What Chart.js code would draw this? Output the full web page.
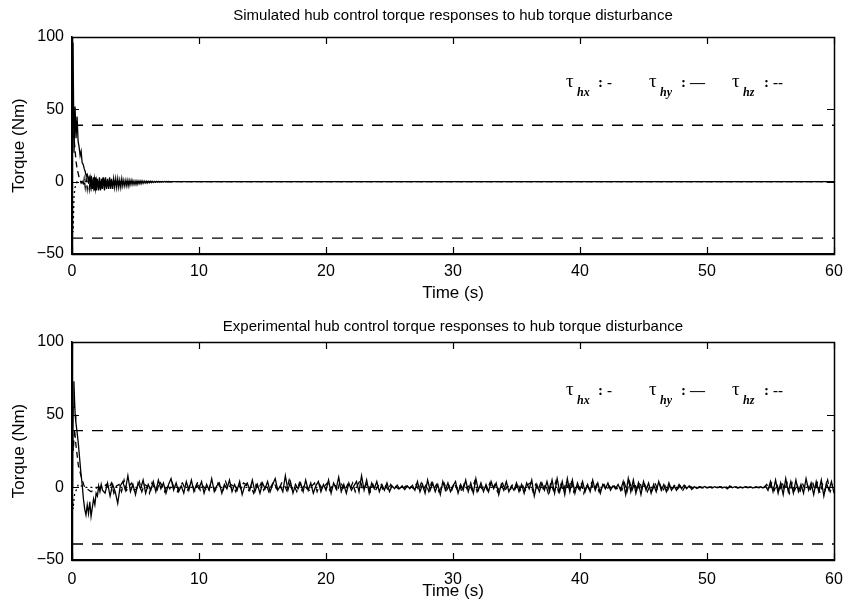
<!DOCTYPE html>
<html>
<head>
<meta charset="utf-8">
<script src="https://cdn.jsdelivr.net/npm/chart.js@4.4.1/dist/chart.umd.min.js"></script>
<style>
  html, body { margin: 0; padding: 0; background: #fff; }
  #wrap { position: relative; width: 847px; height: 605px; }
  #c1 { position: absolute; left: 0; top: 0; }
  #c2 { position: absolute; left: 0; top: 302px; }
</style>
</head>
<body>
<div id="wrap">
  <canvas id="c1" width="847" height="305"></canvas>
  <canvas id="c2" width="847" height="303"></canvas>
</div>
<script>
// ---------------- DATA ----------------
const xTickValues = [0, 10, 20, 30, 40, 50, 60];
const yTickValues = [-50, 0, 50, 100];
const limitValues = [39, -39];
const titles = [
  'Simulated hub control torque responses to hub torque disturbance',
  'Experimental hub control torque responses to hub torque disturbance'
];
const legendSubs = ['hx', 'hy', 'hz'];
const legendMarks = ['-', '\u2014', '--'];

// Simulated: sampled every 0.08 s from t = 0, then steady at 0 until 60 s
const simDt = 0.08;
const simHx = [0, 96, 20, 52, 30, 45, 28, 24, 18, 21, 13, 12, 9, 7, 4, 5, 1, 3,
  -3, 4, -5, 3, -6, 3, -6, 2, -6, 3, -6, 2, -5, 3, -6, 3, -5, 2, -5, 3, -5, 2,
  -5, 2, -4, 2, -4, 2, -4, 1, -4, 2, -3, 1, -3, 1, -3, 1, -3, 1, -2, 1,
  -2, 0.5, -2, 0.5, -2, 0.5, -1.5, 0.5, -1.5, 0.5, -1.2, 0.4, -1, 0.4, -1, 0.3,
  -0.8, 0.3, -0.7, 0.3, -0.6, 0.2, -0.5, 0.2, -0.4, 0.2, -0.4, 0.1, -0.3, 0.1,
  -0.3, 0.1, -0.2, 0.1, -0.2, 0.1, -0.1, 0, -0.1, 0, 0];
const simHy = [0, 45, 30, 22, 14, 9, 6, 3, 1, -1, 0, -3, 2, -4, 2, -5, 1, -5, 2,
  -4, 1, -4, 2, -5, 1, -4, 1, -3, 1, -3, 1, -3, 0.5, -2, 0.5, -2, 0.5, -2, 0.3,
  -1.5, 0.3, -1, 0.2, -1, 0.2, -0.8, 0.1, -0.5, 0, -0.3, 0];
const simHz = [0, -35, -10, -4, -2, 0];
const simEndTime = 60;
const simEndValue = 0;

// Experimental transient (explicit times)
const expTransT = [0, 0.05, 0.1, 0.15, 0.2, 0.25, 0.3, 0.4, 0.5, 0.6, 0.7, 0.8, 0.9, 1.0,
  1.1, 1.2, 1.3, 1.4, 1.5, 1.6, 1.7, 1.8, 1.9, 2.0, 2.1, 2.2, 2.3, 2.4];
const expTransHx = [0, 30, 55, 73, 60, 50, 45, 38, 30, 20, 10, 2, -8, -15,
  -19, -12, -18, -10, -20, -14, -8, -12, -4, -6, 1, -3, 2, -2];
// Experimental noise, sampled every 0.2 s
const expNoiseDt = 0.2;
const expNoiseHxT0 = 2.6;
const expNoiseHx = [
  -4, 3, -6, 2, -3, -11, 1, 4, -2, 8,
  -3, 2, -5, 3, -1, 5, -4, 2, -2, 4,
  -3, 5, -1, 3, -4, 2, 6, -2, 3, -3,
  1, -4, 4, -2, 5, -3, 2, -1, 4, -4,
  2, -2, 6, -3, 1, 3, -4, 2, -1, 5,
  -3, 2, -2, 4, -5, 1, 3, -2, 5, -3,
  2, -4, 3, -1, 4, -3, 2, 6, -2, 1,
  -3, 8, -2, 4, -4, 2, -1, 3, -3, 5,
  -2, 3, -4, 1, 4, -3, 2, -2, 5, -4,
  3, -1, 7, -3, 2, -4, 3, -2, 1, 4,
  -3, 8, -2, 5, -4, 3, -1, 4, -3, 2,
  -2, 3, -3, 1, -1, 1.5, -1, 1, -1.5, 1,
  -1, 1.5, -2, 4, -3, 2, -4, 5, -2, 3,
  -3, 2, -5, 4, -2, 3, -3, 1, 4, -4,
  2, -2, 5, -3, 3, -4, 6, -2, 3, -3,
  2, -3, 4, -1, 3, -5, 2, -2, 4, -3,
  1, -2, 3, -3, 2, -4, 3, -1, 5, -6,
  2, -3, 3, -2, 4, -3, 5, -4, 6, -3,
  4, -5, 6, -3, 5, -4, 3, -2, 4, -3,
  2, -3, 5, -2, 3, -4, 2, -1, 3, -2,
  1, -1, 2, -2, 4, -5, 6, -3, 5, -4,
  3, -5, 4, -2, 3, -4, 2, -3, 4, -2,
  2, -3, 3, -2, 1, -2, 2, -1, 1.5, -1,
  1, -1.5, 0.5, -0.8, 0.5, -0.5, 0.6, -0.4, 0.3, -0.5,
  0.4, -0.3, 0.5, -0.4, 0.3, -1, 1, -0.3, 0.4, -0.5,
  0.3, -0.4, 0.5, -0.3, 0.4, -0.5, 0.3, -0.2, 0.5, -0.4,
  1, -2, 4, -3, 5, -4, 3, -5, 6, -3,
  4, -4, 5, -3, 2, -4, 6, -2, 3, -5,
  4, -3, 5, -6, 3, -2, 4, -4];
const expNoiseHyT0 = 2.7;
const expNoiseHy = [
  2, -1, 3, -4, 1, 2, -3, 5, -2, 1,
  3, -2, -1, 4, -3, 2, 1, -4, 3, -1,
  -2, 4, 1, -3, 2, -1, 3, -2, -3, 2,
  3, -1, -2, 2, 1, -3, 4, -2, 1, -1,
  -3, 2, 1, -2, 3, -1, -2, 4, -1, 2,
  1, -3, 2, -1, 3, 2, -2, 1, -4, 2,
  -1, 3, -2, 2, -3, 1, 4, -1, -2, 3,
  2, -2, 5, -1, 1, -3, 3, -2, 2, -1,
  -2, 1, 3, -3, 2, -1, 1, 3, -2, 1,
  2, -3, 4, 1, -2, 2, -1, 3, -3, 2,
  5, -2, 1, 3, -3, 2, -2, 1, 3, -2,
  1, -2, 2, -1, 0.5, -1, 1, -0.5, 1, -1,
  0.5, -1, 2, -2, 3, -1, 2, -3, 3, -1,
  2, -3, 1, 3, -2, 1, -2, 3, -1, 2,
  -3, 3, -1, 2, -2, 4, -3, 1, -1, 2,
  -2, 3, -1, 2, -3, 1, 3, -2, 1, -2,
  2, -1, 3, -2, 1, -2, 2, 3, -3, 2,
  -2, 3, -1, 2, -4, 3, -2, 4, -3, 2,
  -3, 4, -2, 5, -3, 2, -1, 3, -4, 2,
  -1, 3, -2, 2, -3, 1, 2, -2, 1, -1,
  1, -1, 1, -2, 3, -3, 4, -2, 3, -3,
  4, -2, 2, -3, 1, -2, 3, -1, 2, -3,
  1, -2, 2, -1, 2, -1, 1, -2, 1, -0.5,
  0.5, -0.5, 0.3, -0.4, 0.2, -0.3, 0.4, -0.2, 0.3, -0.3,
  0.3, -0.2, 0.4, -0.5, 0.2, -0.3, 0.6, -0.4, 0.2, -0.3,
  0.2, -0.3, 0.3, -0.2, 0.3, -0.4, 0.2, -0.3, 0.3, -0.2,
  2, -1, 3, -2, 2, -3, 4, -2, 3, -4,
  3, -2, 2, -4, 3, -1, 2, -3, 4, -2,
  3, -4, 2, -2, 5, -3, 2];
const expHyT = [0, 0.05, 0.1, 0.2, 0.3, 0.5, 0.8, 1.0, 1.5, 2.0, 2.5];
const expHy = [0, 35, 25, 40, 30, 15, 5, 0, -3, 0, 0];
const expHzT = [0, 0.08, 0.2, 0.5, 1.0, 60];
const expHz = [0, -15, -5, 2, 0, 0];

// ---------------- BUILD ----------------
function sampled(t0, dt, vals) { return vals.map((v, i) => ({ x: +(t0 + i * dt).toFixed(3), y: v })); }
function paired(ts, vals) { return ts.map((t, i) => ({ x: t, y: vals[i] })); }

const simHxPts = sampled(0, simDt, simHx).concat([{ x: simEndTime, y: simEndValue }]);
const simHyPts = sampled(0, simDt, simHy).concat([{ x: simEndTime, y: simEndValue }]);
const simHzPts = sampled(0, simDt, simHz).concat([{ x: simEndTime, y: simEndValue }]);
const expHxPts = paired(expTransT, expTransHx).concat(sampled(expNoiseHxT0, expNoiseDt, expNoiseHx));
const expHyPts = paired(expHyT, expHy).concat(sampled(expNoiseHyT0, expNoiseDt, expNoiseHy));
const expHzPts = paired(expHzT, expHz);

const SANS = '"Liberation Sans", Arial, Helvetica, sans-serif';
const SERIF = '"Liberation Serif", "Times New Roman", serif';

const frameTicks = {
  id: 'frameTicks',
  afterDatasetsDraw(chart) {
    const { ctx, chartArea: a, scales: { x, y } } = chart;
    ctx.save();
    ctx.strokeStyle = '#000';
    ctx.lineWidth = 1.5;
    ctx.strokeRect(Math.round(a.left) + 0.5, Math.round(a.top) + 0.5,
      Math.round(a.right - a.left), Math.round(a.bottom - a.top));
    ctx.lineWidth = 1.2;
    const L = 7;
    ctx.beginPath();
    x.ticks.forEach(t => {
      const px = Math.round(x.getPixelForValue(t.value)) + 0.5;
      ctx.moveTo(px, a.bottom); ctx.lineTo(px, a.bottom - L);
      ctx.moveTo(px, a.top); ctx.lineTo(px, a.top + L);
    });
    y.ticks.forEach(t => {
      const py = Math.round(y.getPixelForValue(t.value)) + 0.5;
      ctx.moveTo(a.left, py); ctx.lineTo(a.left + L, py);
      ctx.moveTo(a.right, py); ctx.lineTo(a.right - L, py);
    });
    ctx.stroke();
    ctx.restore();
  }
};

function titleLegendPlugin(title, titleDy, legendDy) {
  return {
    id: 'titleLegend',
    afterDraw(chart) {
      const { ctx, chartArea: a } = chart;
      ctx.save();
      ctx.fillStyle = '#000';
      // title centred over the axes
      ctx.font = '15px ' + SANS;
      ctx.textAlign = 'center';
      ctx.textBaseline = 'middle';
      ctx.fillText(title, (a.left + a.right) / 2, a.top - titleDy);
      // legend
      ctx.textAlign = 'left';
      ctx.textBaseline = 'alphabetic';
      const startX = 566, gap = 83;
      const base = a.top + legendDy;
      legendSubs.forEach((s, i) => {
        const x0 = startX + i * gap;
        ctx.font = '19px ' + SERIF;
        ctx.fillText('\u03C4', x0, base);
        ctx.font = 'italic bold 12px ' + SERIF;
        ctx.fillText(s, x0 + 11, base + 9);
        ctx.font = 'bold 15px ' + SERIF;
        ctx.fillText(':', x0 + 32, base);
        ctx.fillText(legendMarks[i], x0 + 41, base);
      });
      ctx.restore();
    }
  };
}

function makeChart(id, title, series, padTop, titleDy, xAxisH, tickPad, xTitlePadB, legendDy) {
  const ds = series.map(s => ({
    data: s.pts, borderColor: '#000', borderWidth: 1.3, pointRadius: 0,
    borderDash: s.dash || [], tension: 0, fill: false
  }));
  limitValues.forEach(v => ds.push({
    data: [{ x: xTickValues[0], y: v }, { x: xTickValues[xTickValues.length - 1], y: v }],
    borderColor: '#000', borderWidth: 1.4, pointRadius: 0, borderDash: [11, 9], fill: false
  }));
  return new Chart(document.getElementById(id), {
    type: 'line',
    data: { datasets: ds },
    options: {
      responsive: false, animation: false, devicePixelRatio: 1,
      layout: { padding: { left: 0, right: 13, top: padTop, bottom: 0 } },
      plugins: { legend: { display: false }, tooltip: { enabled: false }, title: { display: false } },
      scales: {
        x: {
          type: 'linear', min: 0, max: 60,
          afterBuildTicks: s => { s.ticks = xTickValues.map(v => ({ value: v })); },
          afterFit: s => { s.height = xAxisH; s.paddingLeft = 0; s.paddingRight = 0; },
          grid: { drawOnChartArea: false, drawTicks: false },
          border: { display: true, color: '#000', width: 1.5 },
          ticks: { color: '#000', padding: tickPad, font: { family: SANS, size: 16 }, maxRotation: 0 },
          title: { display: true, text: 'Time (s)', color: '#000',
            font: { family: SANS, size: 17, lineHeight: 1.2 }, padding: { top: 0, bottom: xTitlePadB } }
        },
        y: {
          type: 'linear', min: -50, max: 100,
          afterBuildTicks: s => { s.ticks = yTickValues.map(v => ({ value: v })); },
          afterFit: s => { s.width = 72; s.paddingTop = 0; s.paddingBottom = 0; },
          grid: { drawOnChartArea: false, drawTicks: false },
          border: { display: true, color: '#000', width: 1.5 },
          ticks: { color: '#000', padding: 8, font: { family: SANS, size: 16 },
            callback: v => String(v).replace('-', '\u2212') },
          title: { display: true, text: 'Torque (Nm)', color: '#000',
            font: { family: SANS, size: 17, lineHeight: 1.2 }, padding: { top: 9, bottom: 0 } }
        }
      }
    },
    plugins: [frameTicks, titleLegendPlugin(title, titleDy, legendDy)]
  });
}

makeChart('c1', titles[0], [
  { pts: simHxPts }, { pts: simHyPts, dash: [6, 4] }, { pts: simHzPts, dash: [2, 3] }
], 37, 21, 51, 8, 1, 50);

makeChart('c2', titles[1], [
  { pts: expHxPts }, { pts: expHyPts, dash: [6, 4] }, { pts: expHzPts, dash: [2, 3] }
], 40, 15, 45, 10, 3.5, 53);
</script>
</body>
</html>
